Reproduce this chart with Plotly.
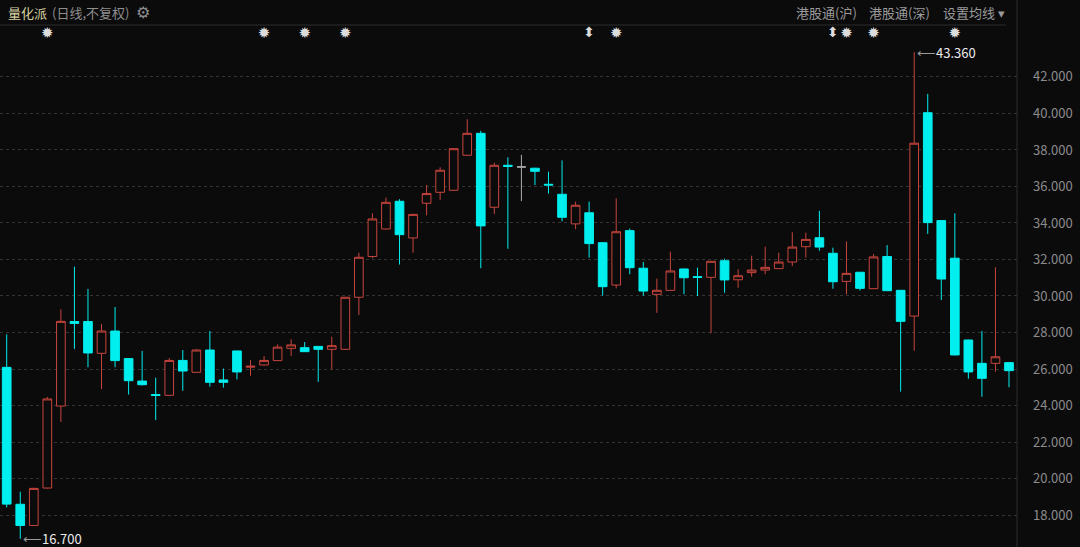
import plotly.graph_objects as go

# ---- data ----
opens = [26.09, 18.59, 17.43, 19.48, 23.97, 28.60, 28.60, 26.86, 28.08, 26.57,
         25.34, 24.60, 24.56, 26.47, 25.82, 27.04, 25.40, 26.99, 26.10, 26.22,
         26.46, 27.13, 27.17, 27.24, 27.08, 27.08, 29.93, 32.16, 33.67, 35.19,
         33.18, 35.08, 35.68, 35.79, 37.71, 38.91, 34.86, 37.16, 37.07, 37.00,
         36.12, 35.57, 33.95, 34.56, 32.92, 30.60, 33.58, 31.52, 30.09, 30.31,
         31.48, 31.06, 31.02, 31.93, 30.89, 31.28, 31.42, 31.50, 31.86, 32.70,
         33.19, 32.34, 30.80, 31.30, 30.40, 32.16, 30.31, 28.90, 40.04, 34.13,
         32.07, 27.59, 26.31, 26.31, 26.35]
highs = [27.90, 19.28, 19.50, 24.47, 29.27, 31.60, 30.38, 28.47, 29.40, 26.60,
         26.99, 25.52, 26.60, 27.04, 27.10, 28.08, 26.02, 27.00, 26.49, 26.71,
         27.35, 27.63, 27.48, 27.25, 27.77, 29.95, 32.37, 34.53, 35.39, 35.30,
         34.50, 36.08, 37.05, 38.10, 39.68, 39.05, 37.30, 37.60, 37.73, 37.02,
         36.81, 37.43, 35.17, 35.17, 32.95, 35.35, 33.70, 31.86, 30.95, 32.43,
         31.50, 31.55, 31.92, 32.05, 31.46, 32.21, 32.70, 32.37, 33.49, 33.47,
         34.66, 32.65, 32.98, 31.32, 32.30, 32.79, 30.33, 43.36, 41.07, 34.15,
         34.53, 27.60, 28.08, 31.57, 26.36]
lows = [18.42, 16.70, 17.40, 19.45, 23.10, 27.10, 26.10, 24.90, 26.10, 24.60,
        25.10, 23.20, 24.55, 24.81, 25.80, 25.03, 24.98, 25.43, 25.63, 26.20,
        26.45, 26.71, 26.93, 25.30, 25.98, 27.07, 28.96, 32.07, 33.65, 31.72,
        32.37, 34.42, 35.26, 35.78, 37.70, 31.52, 34.49, 32.59, 35.20, 36.08,
        35.61, 34.09, 33.66, 32.10, 30.02, 30.42, 31.19, 30.02, 29.08, 30.30,
        30.09, 30.00, 27.96, 30.18, 30.45, 31.06, 31.19, 31.48, 31.64, 32.10,
        32.48, 30.40, 30.09, 30.30, 30.38, 30.28, 24.76, 27.00, 33.40, 29.78,
        26.75, 25.47, 24.48, 25.85, 25.00]
closes = [18.60, 17.43, 19.46, 24.36, 28.61, 28.50, 26.88, 28.08, 26.46, 25.36,
          25.14, 24.55, 26.47, 25.89, 27.04, 25.27, 25.27, 25.84, 26.15, 26.47,
          27.20, 27.32, 26.95, 27.08, 27.28, 29.93, 32.12, 34.22, 35.13, 33.36,
          34.47, 35.61, 36.89, 38.07, 38.91, 33.84, 37.16, 37.10, 37.07, 36.83,
          36.08, 34.31, 34.97, 32.87, 30.51, 33.52, 31.55, 30.27, 30.31, 31.37,
          31.00, 31.02, 31.90, 30.88, 31.11, 31.42, 31.57, 31.86, 32.68, 33.10,
          32.68, 30.78, 31.24, 30.42, 32.14, 30.29, 28.61, 38.37, 34.02, 30.93,
          26.77, 25.84, 25.49, 26.67, 25.91]
star_days = [3, 19, 22, 25, 45, 62, 64, 70]
arrow_days = [43, 61]
y_ticks = [18, 20, 22, 24, 26, 28, 30, 32, 34, 36, 38, 40, 42]
title_name = "量化派"
title_sub = "(日线,不复权)"
header_right = ["港股通(沪)", "港股通(深)", "设置均线 ▾"]

BG = "#0b0b0c"
RED = "#c8453d"
CYAN = "#00eeee"
GREY = "#b0b0b0"
FONT = "Noto Sans CJK SC, Noto Sans, sans-serif"

idx = list(range(len(opens)))
up = [i for i in idx if closes[i] > opens[i]]
down = [i for i in idx if closes[i] < opens[i]]
flat = [i for i in idx if closes[i] == opens[i]]


def cs(sel, line, fill):
    return go.Candlestick(
        x=sel,
        open=[opens[i] for i in sel], high=[highs[i] for i in sel],
        low=[lows[i] for i in sel], close=[closes[i] for i in sel],
        increasing=dict(line=dict(color=line, width=1), fillcolor=fill),
        decreasing=dict(line=dict(color=line, width=1), fillcolor=fill),
        whiskerwidth=0, showlegend=False, hoverinfo="skip",
    )


fig = go.Figure()
fig.add_trace(cs(up, RED, BG))
fig.add_trace(cs(down, CYAN, CYAN))
fig.add_trace(cs(flat, GREY, GREY))

# event markers above candles
top_val = 44.36
fig.add_trace(go.Scatter(x=star_days, y=[top_val] * len(star_days), mode="text",
                         text=["✹"] * len(star_days),
                         textfont=dict(color="#dcdcdc", size=15, family="DejaVu Sans"),
                         showlegend=False, hoverinfo="skip"))
fig.add_trace(go.Scatter(x=arrow_days, y=[top_val] * len(arrow_days), mode="text",
                         text=["⬍"] * len(arrow_days),
                         textfont=dict(color="#dcdcdc", size=14, family="DejaVu Sans"),
                         showlegend=False, hoverinfo="skip"))

# max / min annotations
imax = highs.index(max(highs))
imin = lows.index(min(lows))
for i, v in [(imax, highs[imax]), (imin, lows[imin])]:
    fig.add_annotation(x=i, y=v, xref="x", yref="y", xanchor="left", yanchor="middle",
                       xshift=1, showarrow=False,
                       text=f"<span style='color:#9a9a9a'>⟵</span>{v:.3f}",
                       font=dict(color="#ececec", size=13, family=FONT))

PW = 1017.0
PH = 521.0


def px(x):
    return x / PW


def py(y):
    return (547 - y) / PH


fig.add_annotation(x=px(6), y=py(13), xref="paper", yref="paper", xanchor="left",
                   yanchor="middle", showarrow=False, text=title_name,
                   font=dict(color="#d9d4a0", size=13, family=FONT))
fig.add_annotation(x=px(50), y=py(13), xref="paper", yref="paper", xanchor="left",
                   yanchor="middle", showarrow=False, text=title_sub,
                   font=dict(color="#8e8e8e", size=13, family=FONT))
fig.add_annotation(x=px(134), y=py(13), xref="paper", yref="paper", xanchor="left",
                   yanchor="middle", showarrow=False, text="⚙",
                   font=dict(color="#8e8e8e", size=16, family="DejaVu Sans"))
for xp, t in zip([794, 867, 941], header_right):
    fig.add_annotation(x=px(xp), y=py(13), xref="paper", yref="paper", xanchor="left",
                       yanchor="middle", showarrow=False, text=t,
                       font=dict(color="#9a9a9a", size=13, family=FONT))

# header separator and right vertical separator
fig.add_shape(type="line", xref="paper", yref="paper", x0=0, x1=px(1006),
              y0=py(25), y1=py(25), line=dict(color="#2c2c2c", width=1))
fig.add_shape(type="line", xref="paper", yref="paper", x0=1, x1=1,
              y0=0, y1=py(0), line=dict(color="#2c2c2c", width=1))

fig.update_layout(
    width=1080, height=547,
    margin=dict(l=0, r=63, t=26, b=0),
    paper_bgcolor=BG, plot_bgcolor=BG,
    boxgap=0.36, boxgroupgap=0,
    xaxis=dict(range=[-0.495, 74.59], visible=False, rangeslider=dict(visible=False),
               showgrid=False, zeroline=False),
    yaxis=dict(range=[16.25, 44.79], side="right", tickvals=y_ticks,
               ticktext=[f"{v:.3f}" for v in y_ticks],
               tickfont=dict(color="#8c8c8c", size=13, family=FONT),
               showgrid=True, gridcolor="#333333", griddash="dot", gridwidth=1,
               zeroline=False, showline=False, ticks="", ticklabelstandoff=15),
    font=dict(family=FONT),
)

fig.write_html("out.html", config={"displayModeBar": False},
               post_script="document.body.style.margin='0';document.body.style.background='#0b0b0c';")
